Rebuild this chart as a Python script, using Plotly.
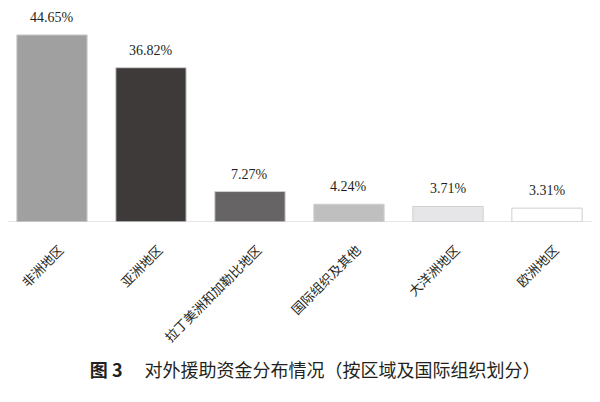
import plotly.graph_objects as go

regions = ["非洲地区", "亚洲地区", "拉丁美洲和加勒比地区", "国际组织及其他", "大洋洲地区", "欧洲地区"]
shares = [44.65, 36.82, 7.27, 4.24, 3.71, 3.31]
share_labels = ["44.65%", "36.82%", "7.27%", "4.24%", "3.71%", "3.31%"]
bar_colors = ["#a0a0a0", "#3e3a39", "#666464", "#bfbfbf", "#e6e6e8", "#ffffff"]

fig = go.Figure()
fig.add_trace(go.Bar(x=regions, y=shares, marker_color=bar_colors,
                     marker_line=dict(color="#cfcfcf", width=1), cliponaxis=False))

# percentage labels above each bar
for reg, val, lab in zip(regions, shares, share_labels):
    fig.add_annotation(x=reg, y=val, text=lab, showarrow=False, yanchor="bottom", yshift=8,
                       font=dict(family="Liberation Serif", size=14, color="#231f20"))

# baseline, a bit shorter than the full width
fig.add_shape(type="line", xref="paper", yref="y", x0=0, x1=0.978, y0=0, y1=0,
              line=dict(color="#cccccc", width=1), layer="above")

# page body adds an 8px offset, so the plot area is pulled up/left to compensate
fig.update_layout(
    width=600, height=402, margin=dict(l=0, r=0, t=0, b=188),
    paper_bgcolor="white", plot_bgcolor="white", bargap=0.29, showlegend=False,
    title=dict(text="<b>图 3</b>　 对外援助资金分布情况（按区域及国际组织划分）", x=0.512, xanchor="center",
               y=1 - 363 / 402, yanchor="middle", yref="container",
               font=dict(family="Noto Sans CJK SC", size=18, color="#231f20")),
)
fig.update_xaxes(range=[-0.444, 5.616], showline=False, tickangle=-45, ticks="",
                 automargin=False, ticklabelstandoff=17, ticklabelshift=8,
                 tickfont=dict(family="Noto Sans CJK SC", size=13, color="#231f20"))
fig.update_yaxes(range=[0, 51.07], visible=False, showgrid=False, zeroline=False, automargin=False)

fig.write_html("out.html")
